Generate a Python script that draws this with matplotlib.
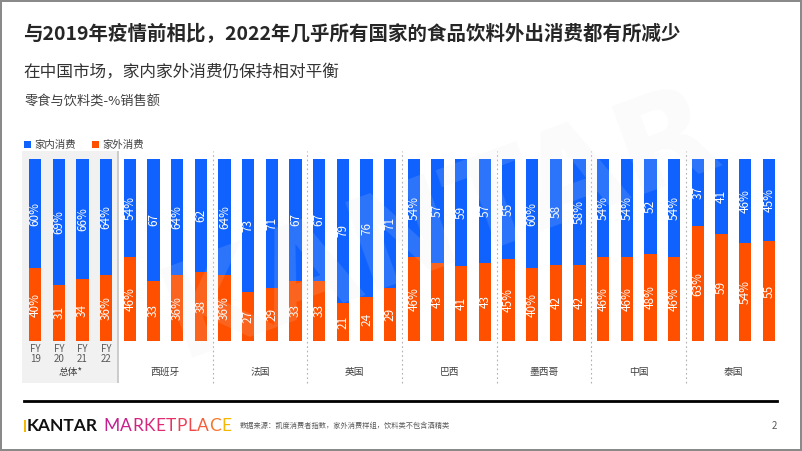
import matplotlib
matplotlib.use("Agg")
import matplotlib.pyplot as plt
from matplotlib.patches import Rectangle
import numpy as np

plt.rcParams['font.family'] = ['Noto Sans CJK SC', 'DejaVu Sans']

# ---------------- data ----------------
groups = ["总体*", "西班牙", "法国", "英国", "巴西", "墨西哥", "中国", "泰国"]
years = ["FY\n19", "FY\n20", "FY\n21", "FY\n22"]
home = [60, 69, 66, 64, 54, 67, 64, 62, 64, 73, 71, 67, 67, 79, 76, 71,
        54, 57, 59, 57, 55, 60, 58, 58, 54, 54, 52, 54, 37, 41, 46, 45]
away = [40, 31, 34, 36, 46, 33, 36, 38, 36, 27, 29, 33, 33, 21, 24, 29,
        46, 43, 41, 43, 45, 40, 42, 42, 46, 46, 48, 46, 63, 59, 54, 55]
home_labels = ["60%", "69%", "66%", "64%", "54%", "67", "64%", "62",
               "64%", "73", "71", "67", "67", "79", "76", "71",
               "54%", "57", "59", "57", "55", "60%", "58", "58%",
               "54%", "54%", "52", "54%", "37", "41", "46%", "45%"]
away_labels = ["40%", "31", "34", "36%", "46%", "33", "36%", "38",
               "36%", "27", "29", "33", "33", "21", "24", "29",
               "46%", "43", "41", "43", "45%", "40%", "42", "42",
               "46%", "46%", "48%", "46%", "63%", "59", "54%", "55"]
series_names = ["家内消费", "家外消费"]
title = "与2019年疫情前相比，2022年几乎所有国家的食品饮料外出消费都有所减少"
subtitle = "在中国市场，家内家外消费仍保持相对平衡"
unit_note = "零食与饮料类-%销售额"
source = "数据来源：凯度消费者指数，家外消费样组，饮料类不包含酒精类"

BLUE = "#0F62FE"
ORANGE = "#FF5000"
W, H = 802, 451

fig = plt.figure(figsize=(W / 100, H / 100), dpi=100)
fig.patch.set_facecolor("white")
fig.patch.set_edgecolor("#8a8a8a")
fig.patch.set_linewidth(1.5)


def fx(px):
    return px / W


def fy(py):
    return 1 - py / H


# bar axes
pitch = 23.67
c0 = 35.15
ax = fig.add_axes([0, fy(341), 1, 182 / H])
ax.set_xlim(-c0 / pitch, (W - c0) / pitch)
ax.set_ylim(0, 100)
ax.axis("off")


def ypx(py):
    return (341 - py) / 1.82


x = np.arange(len(home))
bw = 12.3 / pitch
b1 = ax.bar(x, away, width=bw, color=ORANGE, zorder=3)
b2 = ax.bar(x, home, width=bw, bottom=away, color=BLUE, zorder=3)
ax.bar_label(b1, labels=away_labels, label_type="center", rotation=90,
             color="white", fontsize=8.5, zorder=4)
ax.bar_label(b2, labels=home_labels, label_type="center", rotation=90,
             color="white", fontsize=8.5, zorder=4)

# shaded first group
x_left = (21.7 - c0) / pitch
ax.add_patch(Rectangle((x_left, ypx(383)), 3.5 - x_left, ypx(151) - ypx(383),
                       facecolor="#F1F1F1", edgecolor="none", zorder=0,
                       clip_on=False))

# separators
ax.vlines([3.5], ypx(383), ypx(151), color="#c4c4c4", lw=1.2, zorder=1,
          clip_on=False)
ax.vlines([7.5 + 4 * k for k in range(6)], ypx(383), ypx(151), color="#b0b0b0",
          lw=0.8, linestyles=(0, (1.5, 2.5)), zorder=1, clip_on=False)

# year labels (first group)
for i, yl in enumerate(years):
    ax.text(i, ypx(344), yl, ha="center", va="top", fontsize=7,
            color="#595959", linespacing=1.05, clip_on=False)

# group labels
for g, name in enumerate(groups):
    ax.text(4 * g + 1.5, ypx(372), name, ha="center", va="center",
            fontsize=7, color="#404040", clip_on=False)

# legend
for k, (name, col) in enumerate(zip(series_names, [BLUE, ORANGE])):
    x0 = [24, 92][k]
    fig.patches.append(Rectangle((fx(x0), fy(148)), 7 / W, 7 / H,
                                 transform=fig.transFigure, facecolor=col,
                                 edgecolor="none"))
    fig.text(fx(x0 + 10), fy(144.5), name, fontsize=7.5, color="#404040",
             va="center", ha="left")

# titles
fig.text(fx(23), fy(33), title, fontsize=14, fontweight="bold",
         color="#262626", va="center", ha="left")
fig.text(fx(23), fy(73), subtitle, fontsize=12, color="#333333",
         va="center", ha="left")
fig.text(fx(25), fy(102), unit_note, fontsize=9.5, color="#404040",
         va="center", ha="left")

# watermark
fig.text(fx(440), fy(225), "KANTAR", fontsize=92, fontweight="bold",
         color="#e6e6e6", alpha=0.14, rotation=20, ha="center", va="center",
         zorder=10, family="DejaVu Sans")

# footer
fig.lines.append(plt.Line2D([fx(24), fx(777)], [fy(401), fy(401)],
                            transform=fig.transFigure, color="black", lw=2))
r = fig.canvas.get_renderer()
t = fig.text(fx(27), fy(426), "KANTAR", fontsize=12.5, color="#111111",
             va="center", ha="left", family="Lato", fontweight="bold")
fig.patches.append(Rectangle((fx(24), fy(432)), 2 / W, 12 / H,
                             transform=fig.transFigure, facecolor="#F5B800",
                             edgecolor="none"))
bb = t.get_window_extent(r)
xcur = bb.x1 + 5
word = "MARKETPLACE"
cols = ["#C0208F", "#C8218A", "#D12384", "#D9267C", "#E02A72", "#E63168",
        "#EC3D5A", "#F04B4A", "#F45E3A", "#F7772A", "#F5B800"]
for ch, col in zip(word, cols):
    tt = fig.text(xcur / W, fy(426), ch, fontsize=12.5, color=col,
                  va="center", ha="left", family="Lato")
    xcur = tt.get_window_extent(r).x1 + 0.5
fig.text(fx(240), fy(426), source, fontsize=5.2, color="#595959",
         va="center", ha="left")
fig.text(fx(777), fy(426), "2", fontsize=7, color="#595959",
         va="center", ha="right")

fig.savefig("out.png", dpi=100, facecolor=fig.get_facecolor(),
            edgecolor=fig.get_edgecolor())
